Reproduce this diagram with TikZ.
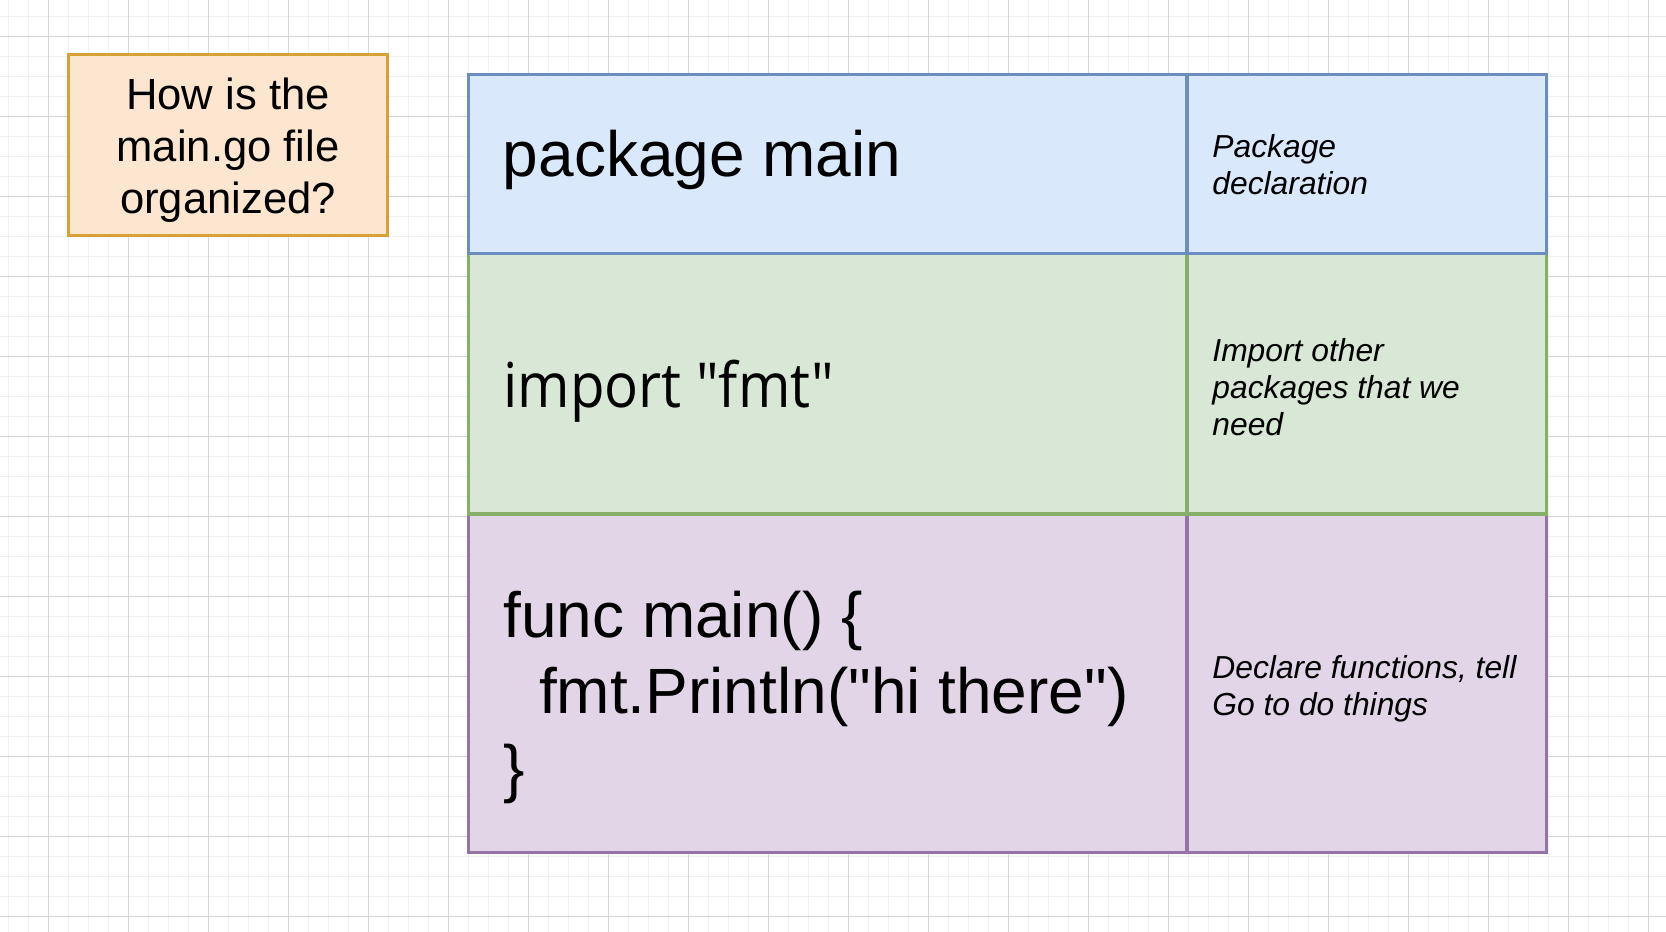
\documentclass[tikz,border=0pt]{standalone}
\usepackage{fontspec}
\setmainfont{Liberation Sans}
\newfontfamily\codefont{Liberation Sans}
\newfontfamily\importfont[FakeStretch=0.91]{Open Sans}
\usetikzlibrary{positioning}
\definecolor{gridmajor}{HTML}{D6D6D6}
\definecolor{gridminor}{HTML}{F0F0F0}
\definecolor{pkgfill}{HTML}{DAE8FC}
\definecolor{pkgline}{HTML}{6C8EBF}
\definecolor{impfill}{HTML}{D8E7D6}
\definecolor{impline}{HTML}{86B06A}
\definecolor{funcfill}{HTML}{E1D5E7}
\definecolor{funcline}{HTML}{9673A6}
\definecolor{askfill}{HTML}{FCE6D0}
\definecolor{askline}{HTML}{D6A236}

\begin{document}
\begin{tikzpicture}
    \tikzset{x=0.5pt,y=-0.5pt,
      cell/.style={rectangle,line width=1.6pt,inner sep=0pt,outer sep=0pt},
      leftcol/.style={cell,minimum width=359.4pt},
      rightcol/.style={cell,minimum width=179.9pt},
      code/.style={anchor=base west,inner sep=0pt,font=\codefont\fontsize{32}{38.4}\selectfont},
      note/.style={anchor=west,inner sep=0pt,align=left,font=\fontsize{15.9}{18.4}\selectfont\itshape}}
    \useasboundingbox[fill=white] (0,0) rectangle (1666,932);
    % background grid
    \foreach \gx in {8.7,28.7,...,1666} \draw[gridminor,line width=0.5pt] (\gx,0) -- (\gx,932);
    \foreach \gy in {16,36,...,932} \draw[gridminor,line width=0.5pt] (0,\gy) -- (1666,\gy);
    \foreach \gx in {48.7,128.7,...,1666} \draw[gridmajor,line width=0.5pt] (\gx,0) -- (\gx,932);
    \foreach \gy in {36,116,...,932} \draw[gridmajor,line width=0.5pt] (0,\gy) -- (1666,\gy);
    % question box
    \node [cell,fill=askfill,draw=askline,minimum width=159.8pt,minimum height=90.8pt]   (askbox) at (228,145) {};
    \node [align=center,inner sep=0pt,font=\fontsize{21.8}{26}\selectfont]   (ask) at (228,150.5)
      {How is the\\main.go file\\organized?};
    % table, bottom row first
    \node [leftcol,fill=funcfill,draw=funcline,minimum height=169.25pt]   (funccell) at (827.6,683.25) {};
    \node [rightcol,fill=funcfill,draw=funcline,minimum height=169.25pt,right=0pt of funccell]   (funcnotecell) {};
    \node [leftcol,fill=impfill,draw=impline,minimum height=130.35pt,above=0pt of funccell]   (impcell) {};
    \node [rightcol,fill=impfill,draw=impline,minimum height=130.35pt,right=0pt of impcell]   (impnotecell) {};
    \node [leftcol,fill=pkgfill,draw=pkgline,minimum height=89.55pt,above=0pt of impcell]   (pkgcell) {};
    \node [rightcol,fill=pkgfill,draw=pkgline,minimum height=89.55pt,right=0pt of pkgcell]   (pkgnotecell) {};
    % cell texts
    \node [code]   (pkgcode) at (502.5,176.7) {package main};
    \node [code,font=\importfont\fontsize{31}{37}\selectfont]   (impcode) at (503,407.5) {import "fmt"};
    \node [code,align=left]   (funccode) at (503,790.6)
      {func main() \{\\\hspace*{17.8pt}fmt.Println("hi there")\\\}};
    \node [note]   (pkgnote) at (1212,165) {Package\\declaration};
    \node [note]   (impnote) at (1212,387) {Import other\\packages that we\\need};
    \node [note]   (funcnote) at (1212,689) {Declare functions, tell\\Go to do things};
\end{tikzpicture}
\end{document}
